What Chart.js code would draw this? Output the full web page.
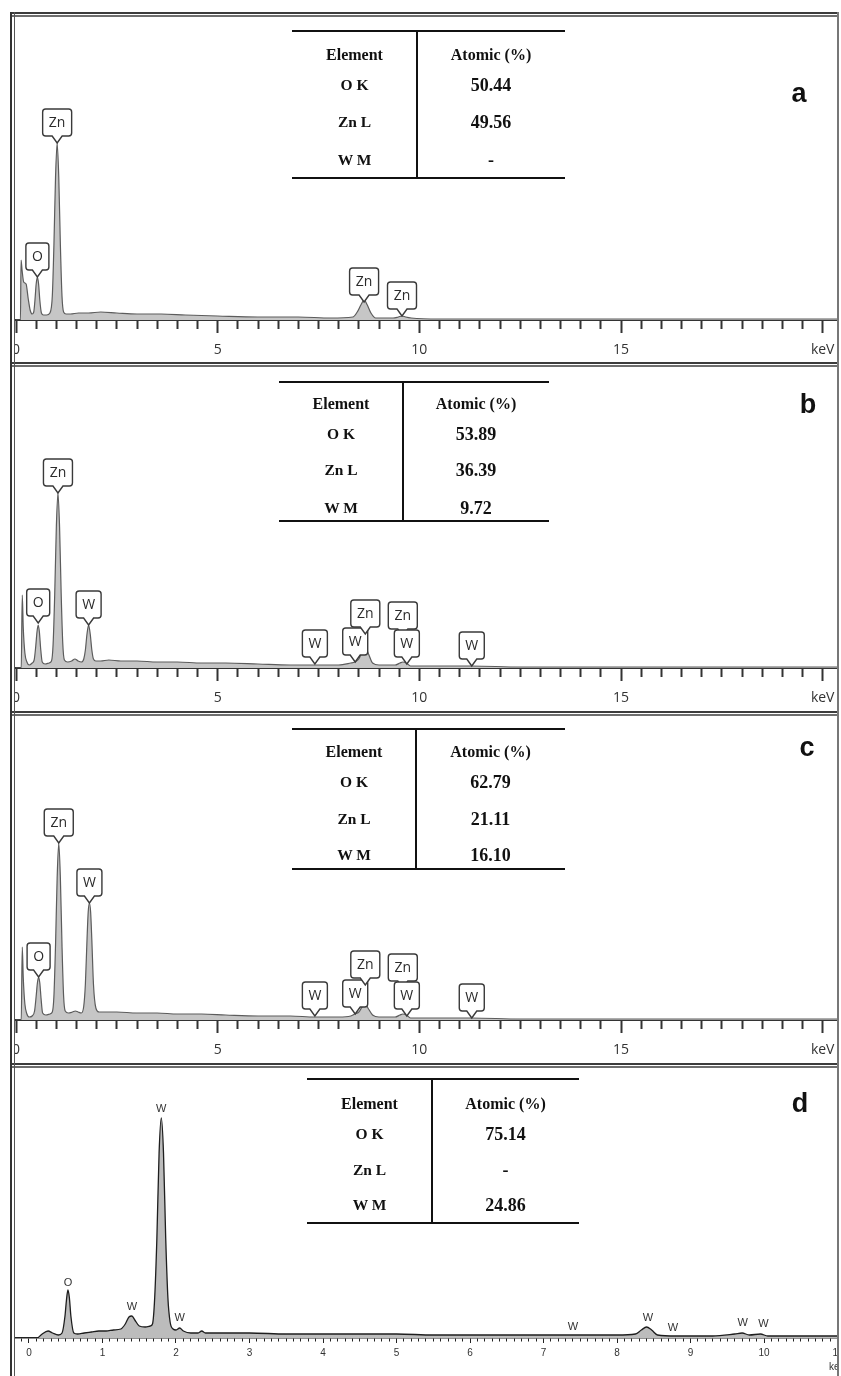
<!DOCTYPE html>
<html>
<head>
<meta charset="utf-8">
<title>EDS spectra a-d</title>
<script src="https://cdn.jsdelivr.net/npm/chart.js@4.4.1/dist/chart.umd.min.js"></script>
<style>
  html, body { margin: 0; padding: 0; background: #fff; }
  #fig { position: relative; width: 841px; height: 1376px; overflow: hidden; background: #fff; }
  #fig canvas { position: absolute; }
  .hline { position: absolute; left: 10px; width: 829px; height: 5px; box-sizing: border-box;
           border-top: 2px solid #3c3c3c; border-bottom: 2px solid #6e6e6e; }
  .vleft { position: absolute; left: 10px; top: 12px; width: 5px; height: 1364px; box-sizing: border-box;
           border-left: 2px solid #333; border-right: 1.5px solid #555; }
  .vright { position: absolute; left: 837px; top: 12px; width: 2px; height: 1364px; background: #777; }
  .tbl { position: absolute; box-sizing: border-box; border-top: 2px solid #111; border-bottom: 2px solid #111;
         font-family: "Liberation Serif", "Times New Roman", serif; font-weight: bold; color: #111; }
  .tbl .sep { position: absolute; top: 0; bottom: 0; width: 2px; background: #111; }
  .tbl .cell { position: absolute; transform: translate(-50%, -50%); white-space: nowrap; line-height: 1; }
  .letter { position: absolute; transform: translate(-50%, -50%); color: #111;
            font: bold 27px "Liberation Sans", Arial, sans-serif; line-height: 1; }
</style>
</head>
<body>
<div id="fig">
  <canvas id="specA" width="823" height="344" style="left:15px;top:16px"></canvas>
  <canvas id="specB" width="823" height="342" style="left:15px;top:366px"></canvas>
  <canvas id="specC" width="823" height="344" style="left:15px;top:716px"></canvas>
  <canvas id="specD" width="823" height="308" style="left:15px;top:1068px"></canvas>
</div>
<script>
// ---------- spectrum a (keV / counts) ----------
const energyA = [
  0.00, 0.11, 0.125, 0.15, 0.19, 0.25, 0.30, 0.35, 0.40, 0.44,
  0.47, 0.50, 0.53, 0.56, 0.59, 0.63, 0.68, 0.76, 0.84, 0.90,
  0.94, 0.98, 1.02, 1.06, 1.10, 1.14, 1.18, 1.24, 1.35, 1.55,
  1.80, 2.10, 2.50, 3.00, 3.60, 4.20, 5.00, 6.00, 7.00, 7.80,
  8.35, 8.46, 8.55, 8.63, 8.71, 8.80, 8.92, 9.35, 9.48, 9.57,
  9.66, 9.80, 10.50, 12.00, 15.00, 20.38
];
const countsA = [
  0, 0, 60, 50, 38, 36, 22, 10, 6, 8,
  20, 36, 43, 36, 20, 7, 5, 5, 7, 24,
  75, 143, 177, 143, 75, 24, 8, 6, 6, 7,
  7, 8, 7, 6, 6, 5, 4, 3, 3, 2,
  3, 8, 15, 20, 15, 7, 2, 2, 3, 4,
  3, 2, 1, 1, 1, 1
];
const tagKeVA = [0.53, 1.02, 8.63, 9.57];
const tagTextA = ['O', 'Zn', 'Zn', 'Zn'];
const tagTipA = [43, 177, 18, 4];

// ---------- spectrum b ----------
const energyB = [
  0.00, 0.13, 0.155, 0.18, 0.22, 0.27, 0.33, 0.40, 0.45, 0.49,
  0.52, 0.55, 0.58, 0.61, 0.65, 0.72, 0.82, 0.88, 0.92, 0.96,
  1.00, 1.04, 1.08, 1.12, 1.16, 1.20, 1.28, 1.38, 1.46, 1.54,
  1.62, 1.68, 1.72, 1.76, 1.80, 1.84, 1.88, 1.92, 1.98, 2.10,
  2.30, 2.60, 3.00, 3.50, 4.00, 4.60, 5.20, 6.00, 6.80, 7.40,
  8.00, 8.30, 8.40, 8.50, 8.58, 8.66, 8.74, 8.84, 9.00, 9.40,
  9.52, 9.59, 9.68, 9.78, 10.40, 11.30, 12.50, 15.00, 20.38
];
const countsB = [
  0, 0, 73, 40, 15, 6, 3, 5, 8, 22,
  36, 43, 36, 20, 6, 4, 5, 7, 24, 74,
  141, 175, 141, 74, 24, 8, 6, 7, 9, 7,
  6, 9, 18, 34, 43, 34, 18, 9, 7, 7,
  8, 7, 7, 6, 6, 5, 5, 4, 3, 3,
  3, 5, 6, 9, 16, 20, 14, 5, 3, 3,
  5, 6, 5, 2, 2, 2, 1, 1, 1
];
const tagKeVB = [0.55, 1.04, 1.80, 7.41, 8.41, 8.66, 9.59, 9.69, 11.30];
const tagTextB = ['O', 'Zn', 'W', 'W', 'W', 'Zn', 'Zn', 'W', 'W'];
const tagTipB = [45, 175, 43, 4, 6, 34, 32, 4, 2];

// ---------- spectrum c ----------
const energyC = [
  0.00, 0.13, 0.155, 0.18, 0.22, 0.27, 0.33, 0.40, 0.46, 0.50,
  0.53, 0.56, 0.59, 0.62, 0.66, 0.74, 0.84, 0.90, 0.94, 0.98,
  1.02, 1.06, 1.10, 1.14, 1.18, 1.22, 1.30, 1.40, 1.47, 1.54,
  1.62, 1.68, 1.72, 1.76, 1.79, 1.82, 1.85, 1.88, 1.92, 1.98,
  2.06, 2.20, 2.50, 3.00, 3.50, 4.00, 4.60, 5.20, 6.00, 6.80,
  7.40, 8.00, 8.30, 8.40, 8.50, 8.58, 8.66, 8.74, 8.84, 9.00,
  9.40, 9.52, 9.59, 9.68, 9.78, 10.40, 11.30, 12.50, 15.00, 20.38
];
const countsC = [
  0, 0, 73, 42, 16, 6, 3, 4, 9, 24,
  37, 43, 37, 22, 7, 5, 6, 8, 24, 75,
  142, 177, 142, 75, 24, 9, 7, 8, 9, 8,
  7, 14, 36, 80, 108, 117, 108, 80, 36, 12,
  8, 8, 8, 7, 7, 6, 6, 5, 4, 4,
  3, 3, 4, 6, 8, 13, 16, 11, 5, 3,
  3, 5, 6, 5, 2, 2, 2, 1, 1, 1
];
const tagKeVC = [0.56, 1.06, 1.82, 7.41, 8.41, 8.66, 9.59, 9.69, 11.30];
const tagTextC = ['O', 'Zn', 'W', 'W', 'W', 'Zn', 'Zn', 'W', 'W'];
const tagTipC = [43, 177, 117, 4, 6, 35, 32, 4, 2];

// ---------- spectrum d ----------
const energyD = [
  0.12, 0.18, 0.26, 0.32, 0.40, 0.45, 0.49, 0.51, 0.53, 0.55,
  0.57, 0.61, 0.66, 0.75, 0.85, 0.95, 1.05, 1.15, 1.25, 1.31,
  1.36, 1.40, 1.44, 1.50, 1.58, 1.65, 1.68, 1.71, 1.74, 1.77,
  1.80, 1.83, 1.86, 1.89, 1.92, 1.96, 2.00, 2.05, 2.10, 2.20,
  2.30, 2.35, 2.40, 3.00, 3.50, 4.00, 4.50, 5.00, 5.50, 6.00,
  6.50, 7.00, 7.40, 8.00, 8.25, 8.33, 8.40, 8.47, 8.55, 8.80,
  9.30, 9.60, 9.70, 9.80, 9.95, 10.05, 10.50, 11.005
];
const countsD = [
  0, 4, 7, 5, 3, 5, 22, 38, 48, 40,
  22, 5, 4, 5, 6, 7, 7, 8, 9, 14,
  21, 22, 18, 12, 11, 12, 14, 40, 100, 185,
  220, 185, 100, 40, 16, 9, 8, 10, 7, 5,
  5, 7, 5, 5, 4, 4, 4, 4, 3, 3,
  3, 3, 3, 3, 4, 8, 11, 8, 3, 2,
  2, 4, 5, 3, 4, 2, 2, 2
];
const tagKeVD = [0.53, 1.40, 1.80, 2.05, 7.40, 8.42, 8.76, 9.71, 9.99];
const tagTextD = ['O', 'W', 'W', 'W', 'W', 'W', 'W', 'W', 'W'];
const tagLevelD = [55, 31, 229, 20, 11, 20, 10, 15, 14];

// ---------- composition tables ----------
const tableHead = ['Element', 'Atomic (%)'];
const elementRows = ['O K', 'Zn L', 'W M'];
const atomicA = ['50.44', '49.56', '-'];
const atomicB = ['53.89', '36.39', '9.72'];
const atomicC = ['62.79', '21.11', '16.10'];
const atomicD = ['75.14', '-', '24.86'];
const panelLetters = ['a', 'b', 'c', 'd'];

// ---------- page furniture ----------
const fig = document.getElementById('fig');

function addDiv(cls, css, text) {
  const el = document.createElement('div');
  el.className = cls;
  Object.assign(el.style, css);
  if (text !== undefined) el.textContent = text;
  fig.appendChild(el);
  return el;
}

function addTable(box, values) {
  const t = addDiv('tbl', { left: box.left + 'px', top: box.top + 'px', width: box.width + 'px', height: box.height + 'px' });
  const sep = document.createElement('div');
  sep.className = 'sep';
  sep.style.left = (box.split - 1) + 'px';
  t.appendChild(sep);
  const c1 = box.split / 2;
  const c2 = box.split + (box.width - box.split) / 2;
  const cell = (x, y, text, size) => {
    const el = document.createElement('div');
    el.className = 'cell';
    Object.assign(el.style, { left: x + 'px', top: y + 'px', fontSize: size + 'px' });
    el.textContent = text;
    t.appendChild(el);
  };
  cell(c1, box.rows[0], tableHead[0], 16);
  cell(c2, box.rows[0], tableHead[1], 16);
  elementRows.forEach((name, i) => {
    cell(c1, box.rows[i + 1], name, 15.5);
    cell(c2, box.rows[i + 1], values[i], 18);
  });
}

addTable({ left: 292, top: 30, width: 273, height: 149, split: 125, rows: [23, 53, 90, 128] }, atomicA);
addTable({ left: 279, top: 381, width: 270, height: 141, split: 124, rows: [21, 51, 87, 125] }, atomicB);
addTable({ left: 292, top: 728, width: 273, height: 142, split: 124, rows: [22, 52, 89, 125] }, atomicC);
addTable({ left: 307, top: 1078, width: 272, height: 146, split: 125, rows: [24, 54, 90, 125] }, atomicD);

const letterPos = [[799, 93], [808, 404], [807, 747], [800, 1103]];
panelLetters.forEach((l, i) => addDiv('letter', { left: letterPos[i][0] + 'px', top: letterPos[i][1] + 'px' }, l));

[12, 362, 711, 1063].forEach(y => addDiv('hline', { top: y + 'px' }));
addDiv('vleft', {});
addDiv('vright', {});

// ---------- peak tags ----------
function drawBoxTag(ctx, cx, tipY, label) {
  ctx.font = '14px "Open Sans", "DejaVu Sans", sans-serif';
  const w = Math.round(ctx.measureText(label).width) + 12;
  const h = 27, pin = 7, r = 3;
  const bottom = tipY - pin, top = bottom - h;
  const left = cx - w / 2, right = cx + w / 2;
  ctx.beginPath();
  ctx.moveTo(left + r, top);
  ctx.lineTo(right - r, top);
  ctx.quadraticCurveTo(right, top, right, top + r);
  ctx.lineTo(right, bottom - r);
  ctx.quadraticCurveTo(right, bottom, right - r, bottom);
  ctx.lineTo(cx + 5, bottom);
  ctx.lineTo(cx, tipY);
  ctx.lineTo(cx - 5, bottom);
  ctx.lineTo(left + r, bottom);
  ctx.quadraticCurveTo(left, bottom, left, bottom - r);
  ctx.lineTo(left, top + r);
  ctx.quadraticCurveTo(left, top, left + r, top);
  ctx.closePath();
  ctx.fillStyle = '#fff';
  ctx.fill();
  ctx.strokeStyle = '#3a3a3a';
  ctx.lineWidth = 1.4;
  ctx.stroke();
  ctx.fillStyle = '#2a2a2a';
  ctx.textAlign = 'center';
  ctx.textBaseline = 'middle';
  ctx.fillText(label, cx, (top + bottom) / 2 + 1);
}

function drawPlainTag(ctx, cx, cy, label) {
  ctx.font = '11px "Liberation Sans", Arial, sans-serif';
  ctx.fillStyle = '#333';
  ctx.textAlign = 'center';
  ctx.textBaseline = 'middle';
  ctx.fillText(label, cx, cy);
}

// ---------- chart builder ----------
function makeSpectrum(id, cfg) {
  const tagPlugin = {
    id: 'peakTags',
    afterDatasetsDraw(chart) {
      const { ctx, scales } = chart;
      ctx.save();
      cfg.tagKeV.forEach((e, i) => {
        const px = scales.x.getPixelForValue(e);
        const py = scales.y.getPixelForValue(cfg.tagLevel[i]);
        if (cfg.boxed) drawBoxTag(ctx, px, py, cfg.tagText[i]);
        else drawPlainTag(ctx, px, py, cfg.tagText[i]);
      });
      ctx.restore();
    }
  };

  return new Chart(document.getElementById(id), {
    type: 'line',
    data: {
      datasets: [{
        data: cfg.energy.map((e, i) => ({ x: e, y: cfg.counts[i] })),
        borderColor: cfg.lineColor,
        backgroundColor: cfg.fillColor,
        borderWidth: cfg.lineWidth,
        fill: 'origin',
        pointRadius: 0,
        cubicInterpolationMode: 'monotone'
      }]
    },
    options: {
      responsive: false,
      animation: false,
      devicePixelRatio: 1,
      layout: { padding: 0 },
      plugins: { legend: { display: false }, tooltip: { enabled: false } },
      scales: {
        x: {
          type: 'linear',
          min: cfg.xMin,
          max: cfg.xMax,
          afterFit: s => { s.height = cfg.axisHeight; s.paddingLeft = 0; s.paddingRight = 0; },
          border: { display: true, color: cfg.axisColor, width: cfg.axisWidth },
          grid: {
            drawOnChartArea: false,
            drawTicks: true,
            tickLength: cfg.tickLength,
            tickWidth: cfg.tickWidth,
            tickColor: cfg.axisColor,
            tickBorderDash: ctx => (ctx.tick && cfg.isMajor(ctx.tick.value)) ? [] : [cfg.minorLength, 60]
          },
          ticks: {
            stepSize: cfg.step,
            maxTicksLimit: 1000,
            autoSkip: false,
            includeBounds: false,
            maxRotation: 0,
            minRotation: 0,
            padding: cfg.labelPadding,
            color: '#333',
            font: cfg.tickFont,
            callback: cfg.tickLabel
          }
        },
        y: { display: false, min: 0, max: cfg.yMax }
      }
    },
    plugins: [tagPlugin]
  });
}

const wideAxis = {
  xMin: -0.025, xMax: 20.38, step: 0.5, axisHeight: 40,
  tickLength: 13, minorLength: 8, tickWidth: 2, axisWidth: 2, axisColor: '#333',
  labelPadding: 9,
  tickFont: { family: '"Open Sans", "DejaVu Sans", sans-serif', size: 14 },
  isMajor: v => v % 5 === 0,
  tickLabel: v => v === 20 ? 'keV' : (v % 5 === 0 ? String(v) : ''),
  lineColor: '#5c5c5c', fillColor: '#c6c6c6', lineWidth: 1.2, boxed: true
};

makeSpectrum('specA', Object.assign({}, wideAxis, {
  energy: energyA, counts: countsA, yMax: 304,
  tagKeV: tagKeVA, tagText: tagTextA, tagLevel: tagTipA
}));
makeSpectrum('specB', Object.assign({}, wideAxis, {
  energy: energyB, counts: countsB, yMax: 302,
  tagKeV: tagKeVB, tagText: tagTextB, tagLevel: tagTipB
}));
makeSpectrum('specC', Object.assign({}, wideAxis, {
  energy: energyC, counts: countsC, yMax: 304,
  tagKeV: tagKeVC, tagText: tagTextC, tagLevel: tagTipC
}));
makeSpectrum('specD', {
  energy: energyD, counts: countsD, yMax: 270,
  xMin: -0.19, xMax: 11.005, step: 0.1, axisHeight: 38,
  tickLength: 5, minorLength: 3, tickWidth: 1, axisWidth: 1.5, axisColor: '#222',
  labelPadding: 3,
  tickFont: { family: '"Liberation Sans", Arial, sans-serif', size: 10, lineHeight: 1.4 },
  isMajor: v => Number.isInteger(v),
  tickLabel: v => Number.isInteger(v) ? (v === 11 ? ['11', 'keV'] : String(v)) : '',
  lineColor: '#1e1e1e', fillColor: '#bcbcbc', lineWidth: 1.3, boxed: false,
  tagKeV: tagKeVD, tagText: tagTextD, tagLevel: tagLevelD
});
</script>
</body>
</html>
